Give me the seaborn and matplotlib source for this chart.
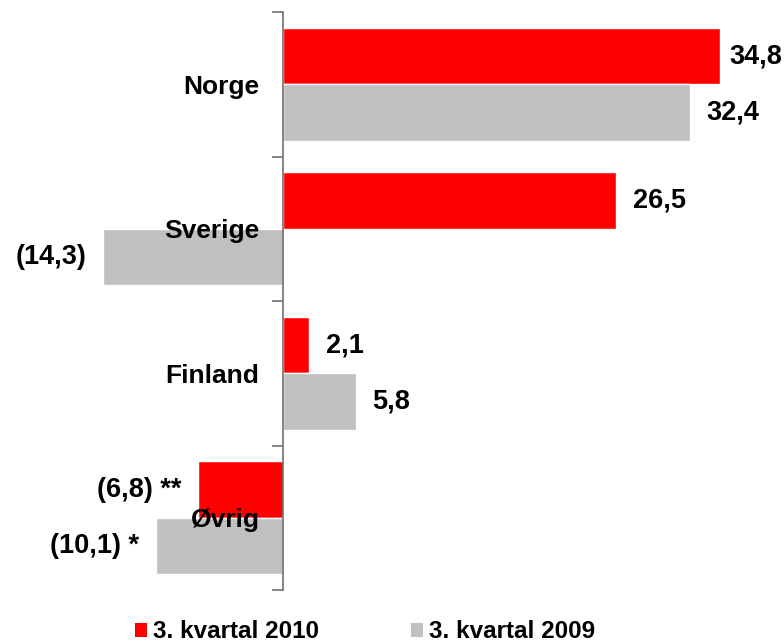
import matplotlib
matplotlib.use("Agg")
import matplotlib.pyplot as plt
import seaborn as sns
import pandas as pd
from matplotlib.patches import Patch
from matplotlib.ticker import FixedLocator

categories = ["Norge", "Sverige", "Finland", "Øvrig"]
series_names = ["3. kvartal 2010", "3. kvartal 2009"]
values_2010 = [34.8, 26.5, 2.1, -6.8]
values_2009 = [32.4, -14.3, 5.8, -10.1]
notes_2010 = ["", "", "", " **"]
notes_2009 = ["", "", "", " *"]
colors = ["#FF0000", "#C0C0C0"]

df = pd.DataFrame({
    "land": categories * 2,
    "verdi": values_2010 + values_2009,
    "serie": [series_names[0]] * 4 + [series_names[1]] * 4,
})

sns.set_style("white")
plt.rcParams["font.family"] = ["Liberation Sans", "DejaVu Sans"]
plt.rcParams["font.weight"] = "bold"
plt.rcParams["text.color"] = "black"
plt.rcParams["ytick.color"] = "black"

fig = plt.figure(figsize=(7.84, 6.42), dpi=100)
ax = fig.add_axes([0, 52 / 642, 1, 578 / 642])

sns.barplot(data=df, x="verdi", y="land", hue="serie", hue_order=series_names,
            order=categories, palette=colors, orient="h", width=0.78,
            saturation=1, ax=ax, legend=False)

pxu = 12.56
ax.set_xlim(-283 / pxu, (784 - 283) / pxu)
ax.set_ylim(3.5, -0.5)
ax.set_axisbelow(False)


def fmt(v, note):
    s = f"{abs(v):.1f}".replace(".", ",")
    if v < 0:
        s = f"({s})"
    return s + note


all_anns = []
for cont, vals, notes in zip(ax.containers, [values_2010, values_2009], [notes_2010, notes_2009]):
    anns = ax.bar_label(cont, labels=[fmt(v, n) for v, n in zip(vals, notes)],
                        padding=12, fontsize=19.5, fontweight="bold", color="black")
    all_anns.append(anns)
# the top label sits closer to its bar (it is squeezed by the right edge)
all_anns[0][0].xyann = (6.5, 0)

for s in ["top", "right", "bottom"]:
    ax.spines[s].set_visible(False)
ax.spines["left"].set_position(("data", 0))
ax.spines["left"].set_color("#707070")
ax.spines["left"].set_linewidth(1.2)
ax.set_xticks([])
ax.set_xlabel("")
ax.set_ylabel("")
ax.yaxis.set_minor_locator(FixedLocator([-0.5, 0.5, 1.5, 2.5, 3.5]))
ax.tick_params(axis="y", which="major", left=True, length=0, pad=17, labelsize=19,
               labelcolor="black")
ax.tick_params(axis="y", which="minor", left=True, length=8, width=1.2, color="#707070",
               direction="out")
for t in ax.get_yticklabels():
    t.set_fontweight("bold")
    t.set_color("black")

handles = [Patch(facecolor=c, edgecolor="none") for c in colors]
fig.legend(handles, series_names, loc="center", bbox_to_anchor=(365 / 784, 1 - 632 / 642),
           ncol=2, frameon=False, prop={"weight": "bold", "size": 17.5},
           handlelength=0.5, handleheight=0.5, handletextpad=0.25, columnspacing=3.8,
           borderpad=0, borderaxespad=0, labelcolor="black")

fig.savefig("out.png", dpi=100)
